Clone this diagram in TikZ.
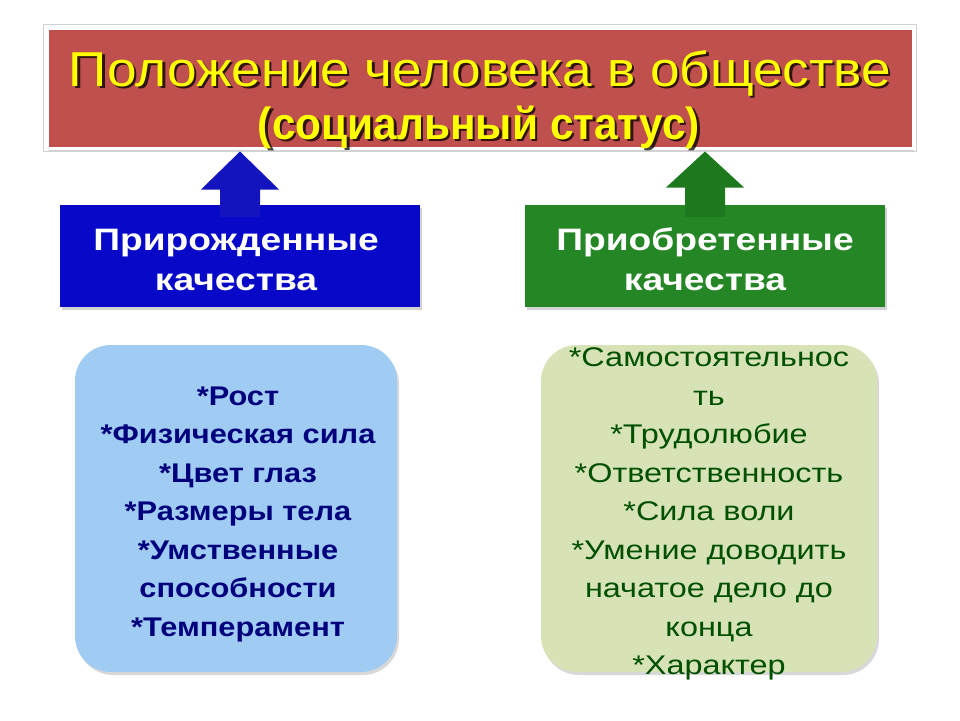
\documentclass[tikz,border=0pt]{standalone}
\usepackage{fontspec}
\setmainfont{Liberation Sans}
\usetikzlibrary{shadows,calc}
\definecolor{titlered}{RGB}{192,80,77}
\definecolor{titleyel}{RGB}{255,255,0}
\definecolor{bluebox}{RGB}{8,8,200}
\definecolor{bluearrow}{RGB}{20,20,190}
\definecolor{greenbox}{RGB}{36,134,36}
\definecolor{greenarrow}{RGB}{30,120,30}
\definecolor{lightblue}{RGB}{160,204,243}
\definecolor{lightgreen}{RGB}{215,227,182}
\definecolor{navytext}{RGB}{0,0,125}
\definecolor{greentext}{RGB}{0,80,0}
\tikzset{
  titlebox/.style={rectangle, fill=titlered, draw=white, line width=3pt,
    minimum width=866pt, minimum height=120pt, inner sep=0pt,
    drop shadow={shadow xshift=1pt, shadow yshift=-3pt, opacity=0.35}},
  catbox/.style={rectangle, inner sep=0pt, minimum width=360pt, minimum height=102pt,
    drop shadow={shadow xshift=2pt, shadow yshift=-3pt, opacity=0.35}},
  listbox/.style={rectangle, rounded corners=36pt, inner sep=0pt, minimum height=327pt,
    drop shadow={shadow xshift=2pt, shadow yshift=-3pt, opacity=0.3}},
  plaintext/.style={inner sep=0pt},
  titletext/.style={text=titleyel, inner sep=0pt, anchor=base},
  titleshadow/.style={text=black, opacity=0.75, inner sep=0pt, anchor=base}
}
\newcommand{\stretchblock}[3]{\scalebox{#1}[1]{#2\begin{tabular}{@{}c@{}}#3\end{tabular}}}
\newcommand{\nl}{\\{}}
\begin{document}
\begin{tikzpicture}[x=1pt,y=-1pt]
\useasboundingbox (0,0) rectangle (960,720);
\fill[white] (0,0) rectangle (960,720);

% title
\node[titlebox] (title) at (480,88) {};
\draw[gray!35, line width=1pt] ($(title.north west)+(-2,-2)$) rectangle ($(title.south east)+(2,2)$);
\newcommand{\lineone}{\resizebox{822pt}{\height}{\fontsize{49}{49}\selectfont Положение человека в обществе}}
\newcommand{\linetwo}{\resizebox{442pt}{\height}{\bfseries\fontsize{45}{45}\selectfont (социальный статус)}}
\node[titleshadow] (t1s) at (482.5,88.5) {\lineone};
\node[titletext] (t1) at (480,86) {\lineone};
\node[titleshadow] (t2s) at (481.5,141.5) {\linetwo};
\node[titletext] (t2) at (479,139) {\linetwo};

% category boxes
\node[catbox, fill=bluebox] (blue) at (240,256) {};
\node[catbox, fill=greenbox] (green) at (705,256) {};

% arrows
\coordinate (bt) at ($(blue.north |- title.south)+(0,2)$);
\coordinate (gt) at ($(green.north |- title.south)+(0,2)$);
\fill[bluearrow] ($(blue.north)+(-20,12)$) -- ($(bt)+(-20,38)$) -- ($(bt)+(-39,38)$) -- (bt)
  -- ($(bt)+(39,38)$) -- ($(bt)+(20,38)$) -- ($(blue.north)+(20,12)$) -- cycle;
\fill[greenarrow] ($(green.north)+(-20,12)$) -- ($(gt)+(-20,36)$) -- ($(gt)+(-39,36)$) -- (gt)
  -- ($(gt)+(39,36)$) -- ($(gt)+(20,36)$) -- ($(green.north)+(20,12)$) -- cycle;

\node[plaintext, text=white] (bluetxt) at (236,262)
  {\stretchblock{1.2}{\bfseries\fontsize{31}{40}\selectfont}{Прирожденные\nl качества}};
\node[plaintext, text=white] (greentxt) at (705,262)
  {\stretchblock{1.2}{\bfseries\fontsize{31}{40}\selectfont}{Приобретенные\nl качества}};

% list boxes
\node[listbox, fill=lightblue, minimum width=322pt] (lb) at (236,508.5) {};
\node[listbox, fill=lightgreen, minimum width=336pt] (gb) at (709,508.5) {};

\node[plaintext, text=navytext] (lbt) at (238,513)
 {\stretchblock{1.14}{\bfseries\fontsize{27}{38.5}\selectfont}{*Рост\nl *Физическая сила\nl *Цвет глаз\nl *Размеры тела\nl *Умственные\nl способности\nl *Темперамент}};
\node[plaintext, text=greentext] (gbt) at (709,513)
 {\stretchblock{1.2}{\fontsize{27}{38.5}\selectfont}{*Самостоятельнос\nl ть\nl *Трудолюбие\nl *Ответственность\nl *Сила воли\nl *Умение доводить\nl начатое дело до\nl конца\nl *Характер}};
\end{tikzpicture}
\end{document}
